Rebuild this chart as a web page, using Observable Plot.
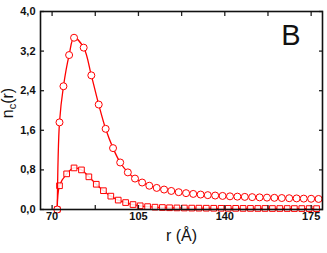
<!DOCTYPE html>
<html>
<head>
<meta charset="utf-8">
<script src="https://cdn.jsdelivr.net/npm/d3@7"></script>
<script src="https://cdn.jsdelivr.net/npm/@observablehq/plot@0.6"></script>
<style>
  body { margin: 0; background: #fff; }
  #chart svg { display: block; }
</style>
</head>
<body>
<div id="chart"></div>
<script>
// Circle series (upper curve)
const rCircles = [72.1, 73.0, 74.6, 76.9, 78.9, 82.8, 85.9, 88.9, 91.7, 94.7, 97.6, 100.7, 103.6, 106.5, 109.4, 112.4, 115.4, 118.3, 121.3, 124.3, 127.2, 130.2, 133.1, 136.1, 139.1, 142.1, 145.1, 148.1, 151.1, 154.1, 157.1, 160.1, 163.1, 166.1, 169.1, 172.0, 175.0, 178.0];
const nCircles = [0, 1.76, 2.49, 3.12, 3.47, 3.27, 2.71, 2.12, 1.63, 1.24, 0.95, 0.75, 0.625, 0.545, 0.48, 0.436, 0.403, 0.375, 0.35, 0.33, 0.315, 0.302, 0.29, 0.282, 0.274, 0.266, 0.26, 0.255, 0.25, 0.245, 0.24, 0.236, 0.232, 0.228, 0.224, 0.22, 0.217, 0.213];

// Square series (lower curve)
const rSquares = [72.1, 73.0, 75.9, 78.9, 81.9, 84.9, 87.9, 90.8, 93.8, 96.8, 99.8, 102.8, 105.7, 108.7, 111.7, 114.7, 117.6, 120.6, 123.6, 126.6, 129.5, 132.5, 135.5, 138.5, 141.4, 144.4, 147.4, 150.4, 153.4, 156.3, 159.3, 162.3, 165.3, 168.2, 171.2, 174.2, 177.2];
const nSquares = [0, 0.48, 0.72, 0.84, 0.80, 0.66, 0.51, 0.38, 0.27, 0.19, 0.14, 0.10, 0.075, 0.058, 0.047, 0.04, 0.035, 0.032, 0.03, 0.028, 0.027, 0.026, 0.025, 0.024, 0.023, 0.023, 0.022, 0.022, 0.021, 0.021, 0.02, 0.02, 0.02, 0.019, 0.019, 0.019, 0.018];

// Ticks
const xTickLabels = [70, 105, 140, 175];
const xTicksAll = [70, 87.5, 105, 122.5, 140, 157.5, 175];
const yTicks = [0, 0.8, 1.6, 2.4, 3.2, 4.0];

const circles = rCircles.map((r, i) => ({r, n: nCircles[i]}));
const squares = rSquares.map((r, i) => ({r, n: nSquares[i]}));

const fmtY = d => d3.format(".1f")(d).replace(".", ",");
const red = "#ff0000";
const font = "Liberation Sans, Arial, Helvetica, sans-serif";

const chart = Plot.plot({
  width: 327,
  height: 253,
  marginLeft: 40,
  marginRight: 5,
  marginTop: 11,
  marginBottom: 44,
  style: {fontFamily: font, background: "#fff", overflow: "visible"},
  x: {domain: [65.3, 179.6]},
  y: {domain: [0, 4]},
  marks: [
    Plot.line(squares, {x: "r", y: "n", stroke: red, strokeWidth: 1.3, curve: "catmull-rom"}),
    Plot.dot(squares, {x: "r", y: "n", symbol: "square", r: 3.2, stroke: red, fill: "white", fillOpacity: 0.85, strokeWidth: 1}),
    Plot.line(circles, {x: "r", y: "n", stroke: red, strokeWidth: 1.3, curve: "catmull-rom"}),
    Plot.dot(circles, {x: "r", y: "n", r: 3.5, stroke: red, fill: "white", strokeWidth: 1}),
    // inward ticks
    Plot.axisX({anchor: "bottom", ticks: xTicksAll, tickSize: -4, tickFormat: () => "", stroke: "#222", strokeWidth: 1.3, label: null}),
    Plot.axisX({anchor: "top", ticks: xTicksAll, tickSize: -4, tickFormat: () => "", stroke: "#222", strokeWidth: 1.3, label: null}),
    Plot.axisY({anchor: "left", ticks: yTicks, tickSize: -4, tickFormat: () => "", stroke: "#222", strokeWidth: 1.3, label: null}),
    Plot.axisY({anchor: "right", ticks: yTicks, tickSize: -4, tickFormat: () => "", stroke: "#222", strokeWidth: 1.3, label: null}),
    // tick labels
    Plot.axisX({anchor: "bottom", ticks: xTickLabels, tickSize: 0, tickPadding: 3, tickFormat: d => String(d), fontSize: 11, fontWeight: "bold", fill: "#111", label: null}),
    Plot.axisY({anchor: "left", ticks: yTicks, tickSize: 0, tickPadding: 5, tickFormat: fmtY, fontSize: 11, fontWeight: "bold", fill: "#111", label: null}),
    Plot.frame({stroke: "#111", strokeWidth: 1.6})
  ]
});

const svg = d3.select(chart);
// Panel letter
svg.append("text")
  .attr("x", 291).attr("y", 45)
  .attr("font-family", font).attr("font-size", 29)
  .attr("fill", "#111")
  .text("B");
// x-axis label
svg.append("text")
  .attr("x", 181.5).attr("y", 241)
  .attr("text-anchor", "middle")
  .attr("font-family", font).attr("font-size", 16)
  .attr("fill", "#111")
  .text("r (Å)");
// y-axis label with subscript
const yl = svg.append("text")
  .attr("transform", "translate(13,103) rotate(-90)")
  .attr("text-anchor", "middle")
  .attr("font-family", font).attr("font-size", 16)
  .attr("fill", "#111");
yl.append("tspan").text("n");
yl.append("tspan").attr("font-size", 11).attr("dy", 3).text("c");
yl.append("tspan").attr("dy", -3).text("(r)");

document.getElementById("chart").append(chart);
</script>
</body>
</html>
